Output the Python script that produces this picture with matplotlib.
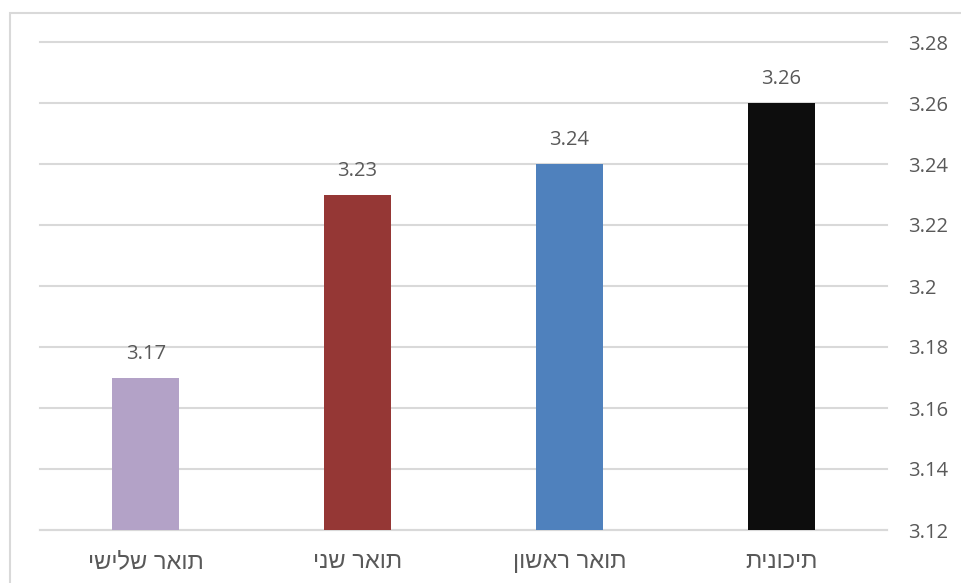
import matplotlib
matplotlib.use("Agg")
import matplotlib.pyplot as plt
from matplotlib.patches import Rectangle

# Data
categories = ["תואר שלישי", "תואר שני", "תואר ראשון", "תיכונית"]
values = [3.17, 3.23, 3.24, 3.26]
colors = ["#B3A2C7", "#953735", "#4F81BD", "#0D0D0D"]
y_ticks = [3.12, 3.14, 3.16, 3.18, 3.2, 3.22, 3.24, 3.26, 3.28]
y_tick_labels = ["3.12", "3.14", "3.16", "3.18", "3.2", "3.22", "3.24", "3.26", "3.28"]

plt.rcParams["font.family"] = ["Open Sans", "DejaVu Sans"]
text_color = "#595959"
grid_color = "#D9D9D9"


def visual(s):
    # matplotlib lays glyphs out left-to-right; reverse Hebrew for display
    return s[::-1]


fig = plt.figure(figsize=(9.62, 5.83), dpi=100)
ax = fig.add_axes([40 / 962, 1 - 530 / 583, (887 - 40) / 962, (530 - 42) / 583])

x = list(range(len(categories)))
ax.bar(x, values, width=0.316, color=colors, zorder=3)
ax.set_xlim(-0.5, len(categories) - 0.5)
ax.set_ylim(3.12, 3.28)

for xi, v in zip(x, values):
    ax.annotate(f"{v:.2f}", (xi, v), xytext=(0, 10), textcoords="offset points",
                ha="center", va="bottom", fontsize=14.5, color=text_color)

ax.set_yticks(y_ticks)
ax.set_yticklabels(y_tick_labels)
ax.yaxis.tick_right()
ax.tick_params(axis="y", length=0, pad=15, labelsize=14.5, labelcolor=text_color)
ax.set_xticks(x)
ax.set_xticklabels([visual(c) for c in categories],
                   fontfamily=["Liberation Sans", "DejaVu Sans"], fontsize=17)
ax.tick_params(axis="x", length=0, pad=15, labelcolor=text_color)

ax.grid(axis="y", color=grid_color, linewidth=1.5, zorder=0)
for gl in ax.get_ygridlines():
    gl.set_clip_on(False)
for side in ["top", "left", "right"]:
    ax.spines[side].set_visible(False)
ax.spines["bottom"].set_color(grid_color)
ax.spines["bottom"].set_linewidth(1.5)

# Chart area border
fig.patches.append(Rectangle((10 / 962, -0.05), 1.0, 1 - 13 / 583 + 0.05,
                             transform=fig.transFigure, fill=False,
                             edgecolor=grid_color, linewidth=1.5))

fig.savefig("out.png", dpi=100, facecolor="white")
